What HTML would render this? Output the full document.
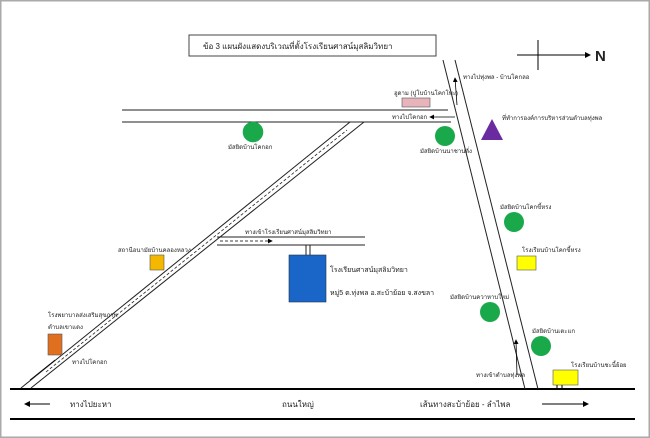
<!DOCTYPE html>
<html><head><meta charset="utf-8"><style>
html,body{margin:0;padding:0;background:#fff;}
svg{display:block;}
text{font-family:"Liberation Sans","DejaVu Sans",sans-serif;fill:#222;}
.s{font-size:6px;}
</style></head><body>
<svg width="650" height="438" viewBox="0 0 650 438" xmlns="http://www.w3.org/2000/svg">
<defs><marker id="a" markerWidth="6" markerHeight="6" refX="5" refY="3" orient="auto"><path d="M0,0 L6,3 L0,6z" fill="#000"/></marker></defs>
<rect x="0.5" y="0.5" width="649" height="437" fill="#fff" stroke="#aaa" stroke-width="2"/>
<!-- title -->
<rect x="189" y="35" width="247" height="21" fill="#fff" stroke="#444" stroke-width="1"/>
<text x="203" y="49" font-size="8">ข้อ 3  แผนผังแสดงบริเวณที่ตั้งโรงเรียนศาสน์มุสลิมวิทยา</text>
<!-- compass -->
<line x1="517" y1="55" x2="590" y2="55" stroke="#000" marker-end="url(#a)"/>
<line x1="538" y1="40" x2="538" y2="70" stroke="#000"/>
<text x="595" y="61" font-size="15" font-weight="bold" font-family="Liberation Serif">N</text>
<!-- main road -->
<line x1="10" y1="389" x2="635" y2="389" stroke="#000" stroke-width="2"/>
<line x1="10" y1="419" x2="635" y2="419" stroke="#000" stroke-width="2"/>
<line x1="50" y1="404" x2="25" y2="404" stroke="#000" marker-end="url(#a)"/>
<text x="70" y="407" font-size="8">ทางไปยะหา</text>
<text x="282" y="407" font-size="8">ถนนใหญ่</text>
<text x="420" y="407" font-size="8">เส้นทางสะบ้าย้อย  -  ลำไพล</text>
<line x1="542" y1="404" x2="588" y2="404" stroke="#000" marker-end="url(#a)"/>
<!-- right road -->
<line x1="443" y1="60" x2="525" y2="389" stroke="#222"/>
<line x1="455" y1="60" x2="538" y2="389" stroke="#222"/>
<line x1="457" y1="105" x2="455" y2="78" stroke="#000" stroke-width="0.8" marker-end="url(#a)"/>
<text class="s" x="463" y="79">ทางไปทุ่งพล - บ้านโคกลอ</text>
<line x1="517" y1="375" x2="516" y2="340" stroke="#000" stroke-width="0.8" marker-end="url(#a)"/>
<text class="s" x="476" y="377">ทางเข้าตำบลทุ่งพล</text>
<!-- top horizontal road -->
<line x1="122" y1="110" x2="448" y2="110" stroke="#222"/>
<line x1="122" y1="122" x2="451" y2="122" stroke="#222"/>
<line x1="455" y1="117" x2="430" y2="117" stroke="#000" stroke-width="0.8" marker-end="url(#a)"/>
<text class="s" x="392" y="119">ทางไปโคกอก</text>
<rect x="402" y="98" width="28" height="9" fill="#e8b4bc" stroke="#555" stroke-width="0.6"/>
<text class="s" x="394" y="95">ฮูดาม (ปูโบบ้านโคกโพะ)</text>
<!-- diagonal road -->
<line x1="21" y1="388" x2="350" y2="122" stroke="#222"/>
<line x1="31" y1="388" x2="364" y2="122" stroke="#222"/>
<line x1="46" y1="372" x2="347" y2="130" stroke="#222" stroke-width="0.8" stroke-dasharray="3,2"/>
<line x1="30" y1="380" x2="55" y2="360" stroke="#000" stroke-width="0.8"/>
<text class="s" x="72" y="364">ทางไปโคกอก</text>
<!-- branch to school -->
<line x1="217" y1="237" x2="365" y2="237" stroke="#222"/>
<line x1="217" y1="245" x2="365" y2="245" stroke="#222"/>
<line x1="220" y1="241" x2="272" y2="241" stroke="#000" stroke-width="0.8" stroke-dasharray="3,2" marker-end="url(#a)"/>
<text class="s" x="245" y="234">ทางเข้าโรงเรียนศาสน์มุสลิมวิทยา</text>
<line x1="306" y1="245" x2="306" y2="255" stroke="#222"/>
<line x1="310" y1="245" x2="310" y2="255" stroke="#222"/>
<rect x="289" y="255" width="37" height="47" fill="#1a66c8" stroke="#234" stroke-width="0.6"/>
<text x="330" y="272" font-size="7">โรงเรียนศาสน์มุสลิมวิทยา</text>
<text x="330" y="295" font-size="7">หมู่5  ต.ทุ่งพล อ.สะบ้าย้อย จ.สงขลา</text>
<!-- left markers -->
<rect x="48" y="334" width="14" height="21" fill="#e07020" stroke="#555" stroke-width="0.6"/>
<text class="s" x="48" y="317">โรงพยาบาลส่งเสริมสุขภาพ</text>
<text class="s" x="48" y="329">ตำบลเขาแดง</text>
<rect x="150" y="255" width="14" height="15" fill="#f4b800" stroke="#555" stroke-width="0.6"/>
<text class="s" x="118" y="252">สถานีอนามัยบ้านคลองหลวง</text>
<!-- green circles -->
<circle cx="253" cy="132" r="10" fill="#1aa94a" stroke="#2a5" stroke-width="0.6"/>
<text class="s" x="228" y="149">มัสยิดบ้านโคกอก</text>
<circle cx="445" cy="136" r="10" fill="#1aa94a"/>
<text class="s" x="420" y="153">มัสยิดบ้านนาชานลั่ง</text>
<circle cx="514" cy="222" r="10" fill="#1aa94a"/>
<text class="s" x="500" y="209">มัสยิดบ้านโคกขี้หรง</text>
<circle cx="490" cy="312" r="10" fill="#1aa94a"/>
<text class="s" x="450" y="299">มัสยิดบ้านควาหาบใหม่</text>
<circle cx="541" cy="346" r="10" fill="#1aa94a"/>
<text class="s" x="532" y="333">มัสยิดบ้านเตะแก</text>
<!-- triangle -->
<polygon points="492,119 481,140 503,140" fill="#6a2aa0"/>
<text class="s" x="502" y="120">ที่ทำการองค์การบริหารส่วนตำบลทุ่งพล</text>
<!-- yellow -->
<rect x="517" y="256" width="19" height="14" fill="#ffff00" stroke="#555" stroke-width="0.6"/>
<text class="s" x="522" y="252">โรงเรียนบ้านโคกขี้หรง</text>
<rect x="553" y="370" width="25" height="15" fill="#ffff00" stroke="#555" stroke-width="0.6"/>
<line x1="557" y1="385" x2="557" y2="389" stroke="#000"/>
<line x1="562" y1="385" x2="562" y2="389" stroke="#000"/>
<text class="s" x="571" y="367">โรงเรียนบ้านชะนี้ย้อย</text>
</svg>
</body></html>
